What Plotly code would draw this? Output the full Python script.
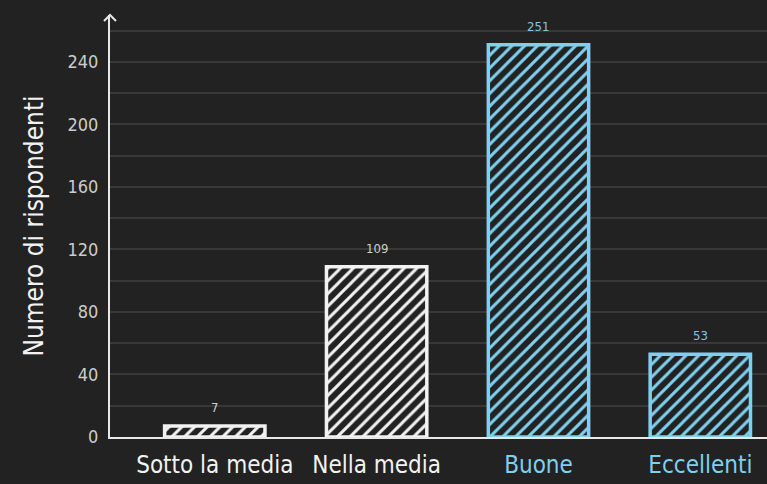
import plotly.graph_objects as go

categories = ["Sotto la media", "Nella media", "Buone", "Eccellenti"]
values = [7, 109, 251, 53]
colors = ["#f2f2f2", "#f2f2f2", "#7fd0ef", "#7fd0ef"]
label_colors = ["#cfcfcf", "#cfcfcf", "#80c6e2", "#80c6e2"]
y_ticks = [0, 40, 80, 120, 160, 200, 240]

BG = "#222222"
GRID = "#383838"
AXIS = "#e8e8e8"
FONT = "DejaVu Sans Condensed, Liberation Sans Narrow, sans-serif"

xpos = list(range(len(categories)))

fig = go.Figure()
fig.add_trace(go.Bar(
    x=xpos, y=values, width=0.62,
    marker=dict(
        color=BG,
        line=dict(color=colors, width=3.5),
        pattern=dict(shape="/", fgcolor=colors, bgcolor=BG, fgopacity=1,
                     size=9, solidity=0.33),
    ),
    hoverinfo="skip",
))

for x, v, c in zip(xpos, values, label_colors):
    fig.add_annotation(x=x, y=v, text=str(v), showarrow=False, yanchor="bottom",
                       yshift=9, font=dict(color=c, size=13, family=FONT))

ticktext = [f"<span style='color:{c}'>{t}</span>" for t, c in zip(categories, colors)]

fig.update_layout(
    width=767, height=484,
    paper_bgcolor=BG, plot_bgcolor=BG,
    margin=dict(l=110, r=0, t=15, b=47),
    showlegend=False,
    font=dict(family=FONT, color="#dddddd"),
    xaxis=dict(
        range=[-0.6475, 3.412],
        tickvals=xpos, ticktext=ticktext,
        tickfont=dict(size=24, family=FONT),
        showgrid=False, zeroline=False,
        showline=True, linecolor=AXIS, linewidth=2,
        ticks="", ticklabelstandoff=5,
    ),
    yaxis=dict(
        range=[0, 270],
        tickvals=y_ticks,
        tickfont=dict(size=18, color="#cccccc", family=FONT),
        showgrid=True, gridcolor=GRID, gridwidth=2,
        minor=dict(dtick=20, showgrid=True, gridcolor=GRID, gridwidth=2),
        zeroline=False,
        showline=True, linecolor=AXIS, linewidth=2,
        ticks="", ticklabelstandoff=6,
        title=dict(text="Numero di rispondenti",
                   font=dict(size=26, color="#f2f2f2", family=FONT), standoff=16),
    ),
)

# open chevron arrowhead at the top of the y axis
fig.add_shape(
    type="path", xref="paper", yref="paper",
    xsizemode="pixel", ysizemode="pixel", xanchor=0, yanchor=1,
    path="M -6,-6 L 0,0 L 6,-6",
    line=dict(color=AXIS, width=2),
)

fig.write_html(
    "out.html",
    config={"displayModeBar": False},
    post_script="document.body.style.margin='0';document.body.style.background='#222222';",
)
